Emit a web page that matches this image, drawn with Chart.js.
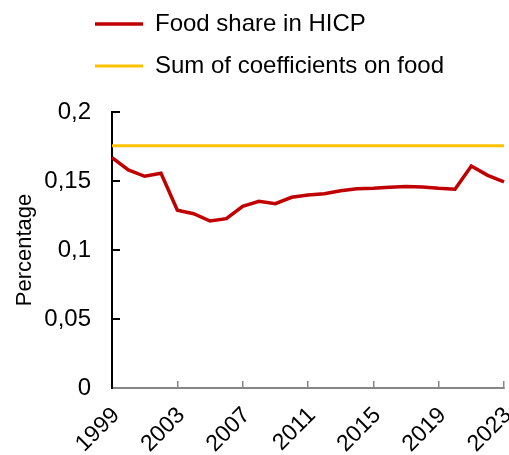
<!DOCTYPE html>
<html>
<head>
<meta charset="utf-8">
<script src="https://cdn.jsdelivr.net/npm/chart.js@4"></script>
<style>
  body { margin: 0; background: #fff; }
  #wrap { width: 509px; height: 455px; }
</style>
</head>
<body>
<div id="wrap"><canvas id="foodChart" width="509" height="455"></canvas></div>
<script>
const years = ['1999', '2000', '2001', '2002', '2003', '2004', '2005', '2006', '2007',
  '2008', '2009', '2010', '2011', '2012', '2013', '2014', '2015', '2016', '2017',
  '2018', '2019', '2020', '2021', '2022', '2023'];
const foodShare = [0.167, 0.158, 0.1534, 0.1556, 0.1288, 0.1263, 0.121, 0.1227, 0.1317,
  0.1353, 0.1336, 0.1382, 0.1399, 0.1408, 0.143, 0.1444, 0.1447, 0.1454, 0.1461,
  0.1457, 0.1447, 0.144, 0.1609, 0.1541, 0.1493];
const coefSum = 0.1755;
const yTickValues = [0, 0.05, 0.1, 0.15, 0.2];

Chart.defaults.font.family = 'Arial, "Liberation Sans", sans-serif';
Chart.defaults.font.size = 24;
Chart.defaults.color = '#000';

// legend rows start further right than the chart's left edge, and sit higher
const legendOffset = {
  id: 'legendOffset',
  afterLayout(chart) {
    const lg = chart.legend;
    lg.left += 77;
    lg.right += 77;
    lg.top -= 24;
    lg.bottom -= 24;
  }
};

const ctx = document.getElementById('foodChart');

new Chart(ctx, {
  type: 'line',
  data: {
    labels: years,
    datasets: [{
      label: 'Food share in HICP',
      data: foodShare,
      borderColor: '#C00000',
      backgroundColor: '#C00000',
      borderWidth: 3.5,
      pointRadius: 0,
      tension: 0
    }, {
      label: 'Sum of coefficients on food',
      data: years.map(() => coefSum),
      borderColor: '#FFC000',
      backgroundColor: '#FFC000',
      borderWidth: 3,
      pointRadius: 0,
      tension: 0
    }]
  },
  options: {
    responsive: false,
    animation: false,
    layout: { padding: { top: 18 } },
    plugins: {
      legend: {
        position: 'top',
        align: 'start',
        labels: {
          usePointStyle: true,
          pointStyle: 'line',
          pointStyleWidth: 48,
          padding: 18,
          color: '#000'
        }
      },
      tooltip: { enabled: false }
    },
    scales: {
      x: {
        grid: {
          drawOnChartArea: false,
          drawTicks: true,
          tickLength: -7,
          color: '#868686',
          lineWidth: 1.5
        },
        border: { color: '#868686', width: 2 },
        ticks: {
          autoSkip: false,
          minRotation: 45,
          maxRotation: 45,
          padding: 21,
          labelOffset: 4,
          font: { size: 23 },
          callback(value, index) {
            return index % 4 === 0 ? this.getLabelForValue(value) : null;
          }
        },
        afterFit: scale => {
          scale.height = 67;
          scale.paddingLeft = 0;
          scale.paddingRight = 5;
        }
      },
      y: {
        min: 0,
        max: 0.2,
        afterBuildTicks: axis => {
          axis.ticks = yTickValues.map(v => ({ value: v }));
        },
        grid: {
          drawOnChartArea: false,
          drawTicks: true,
          tickLength: -8,
          color: '#000',
          lineWidth: 2
        },
        border: { color: '#000', width: 2 },
        ticks: {
          padding: 29,
          callback: v => String(+v.toFixed(2)).replace('.', ',')
        },
        title: {
          display: true,
          text: 'Percentage',
          font: { size: 22 },
          padding: { top: 12, bottom: 4 }
        },
        afterFit: scale => {
          scale.width = 112;
        }
      }
    }
  },
  plugins: [legendOffset]
});
</script>
</body>
</html>
